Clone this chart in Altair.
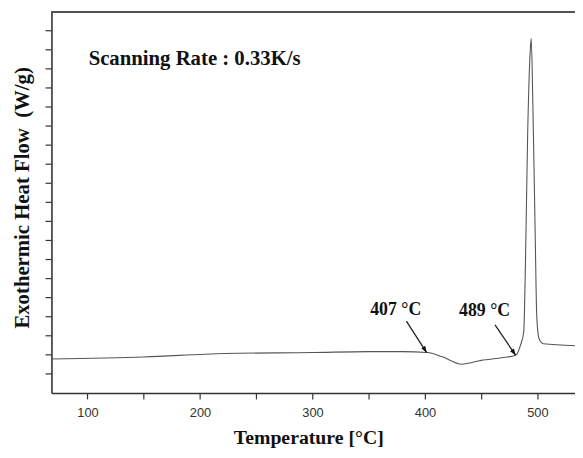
import altair as alt
import pandas as pd

# DSC curve
temperature = [68.0, 150, 222, 300, 350, 380, 402, 415, 432.6, 450, 470, 480.6,
               484.9, 487.8, 489.3, 491.3, 493.6, 494.5, 495.9, 498.0, 499.4,
               501.5, 505.2, 534]
heat_flow = [1.78, 1.89, 2.07, 2.12, 2.17, 2.17, 2.12, 1.91, 1.51, 1.71, 1.86, 1.98,
             2.50, 3.20, 6.61, 13.54, 17.95, 18.6, 15.25, 8.37, 4.03,
             2.84, 2.58, 2.48]

x_ticks = [100, 150, 200, 250, 300, 350, 400, 450, 500]
y_ticks = list(range(1, 20))

# annotations
note_text = ["Scanning Rate : 0.33K/s"]
note_t = [101.0]
note_f = [17.5]

onset_labels = ["407 °C", "489 °C"]
onset_label_t = [374.0, 453.0]
onset_label_f = [4.34, 4.29]
arrow_t0 = [383.5, 462.3]
arrow_f0 = [3.77, 3.57]
arrow_t1 = [401.5, 480.6]
arrow_f1 = [2.12, 1.98]
arrow_angle = [148, 146]

W, H = 530, 386

df = pd.DataFrame({"T": temperature, "F": heat_flow})
notes = pd.DataFrame({"text": note_text, "T": note_t, "F": note_f})
onsets = pd.DataFrame({"text": onset_labels, "T": onset_label_t, "F": onset_label_f})
arrows = pd.DataFrame({"T0": arrow_t0, "F0": arrow_f0, "T1": arrow_t1, "F1": arrow_f1,
                       "ang": arrow_angle})
yt = pd.DataFrame({"v": y_ticks})

x_scale = alt.Scale(domain=[67.95, 533.4], nice=False, zero=False)
y_scale = alt.Scale(domain=[0, 20], nice=False, zero=False)

x_axis = alt.Axis(values=x_ticks, grid=False,
                  labelExpr="datum.value % 100 == 0 ? datum.label : ''",
                  labelFont="Liberation Sans", labelFontSize=13, labelColor="#333",
                  labelPadding=8, tickSize=6, tickColor="#333", tickWidth=1.2,
                  domainColor="#333", domainWidth=1.6,
                  title="Temperature [°C]", titleFont="Liberation Serif",
                  titleFontSize=20, titleFontWeight="bold", titleColor="#111",
                  titlePadding=8, titleX=260)
y_axis = alt.Axis(grid=False, labels=False, ticks=False,
                  domainColor="#333", domainWidth=1.6,
                  title="Exothermic Heat Flow\u00a0 (W/g)", titleFont="Liberation Serif",
                  titleFontSize=21, titleFontWeight="bold", titleColor="#111",
                  titlePadding=19, titleY=188)

curve = alt.Chart(df).mark_line(color="#555", strokeWidth=1.1,
                                interpolate="monotone", clip=True).encode(
    x=alt.X("T:Q", scale=x_scale, axis=x_axis),
    y=alt.Y("F:Q", scale=y_scale, axis=y_axis),
)

y_tick_marks = alt.Chart(yt).mark_rule(color="#333", strokeWidth=1.2).encode(
    x=alt.value(-6), x2=alt.value(0), y=alt.Y("v:Q", scale=y_scale)
)

top_border = alt.Chart(df).mark_rule(color="#555", strokeWidth=1).encode(
    x=alt.value(0), x2=alt.value(W), y=alt.value(0)
)

note = alt.Chart(notes).mark_text(align="left", baseline="middle",
                                  font="Liberation Serif", fontSize=21,
                                  fontWeight="bold", color="#111").encode(
    x=alt.X("T:Q", scale=x_scale), y=alt.Y("F:Q", scale=y_scale), text="text:N"
)

onset_text = alt.Chart(onsets).mark_text(align="center", baseline="middle",
                                         font="Liberation Serif", fontSize=18,
                                         fontWeight="bold", color="#111").encode(
    x=alt.X("T:Q", scale=x_scale), y=alt.Y("F:Q", scale=y_scale), text="text:N"
)

arrow_lines = alt.Chart(arrows).mark_rule(color="#222", strokeWidth=1.3).encode(
    x=alt.X("T0:Q", scale=x_scale), y=alt.Y("F0:Q", scale=y_scale),
    x2="T1:Q", y2="F1:Q"
)

arrow_heads = alt.Chart(arrows).mark_point(
    shape="M0,0L-0.4,1.1L0.4,1.1Z", filled=True, color="#111", opacity=1,
    size=140, strokeWidth=0
).encode(
    x=alt.X("T1:Q", scale=x_scale), y=alt.Y("F1:Q", scale=y_scale),
    angle=alt.Angle("ang:Q", scale=None)
)

chart = alt.layer(curve, y_tick_marks, top_border, note, onset_text,
                  arrow_lines, arrow_heads).properties(
    width=W, height=H,
    padding={"left": 44, "top": 1, "right": 0, "bottom": 55},
    autosize=alt.AutoSizeParams(type="none"),
    background="white",
).configure_view(stroke=None)

chart.save("out.html", embed_options={"renderer": "svg", "actions": False})
